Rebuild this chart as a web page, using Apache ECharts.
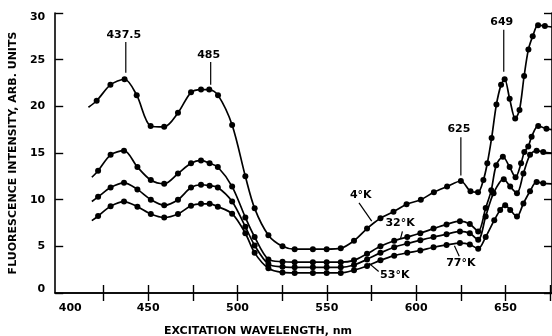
<!DOCTYPE html>
<html>
<head>
<meta charset="utf-8">
<script src="https://cdn.jsdelivr.net/npm/echarts@6/dist/echarts.min.js"></script>
<style>
html,body{margin:0;padding:0;background:#fff;}
#c{width:552px;height:336px;}
</style>
</head>
<body>
<div id="c"></div>
<script>
// ---- data ----
const xTickValues = [425, 450, 475, 500, 525, 550, 575, 600, 625, 650, 675];
const xLabelValues = [400, 450, 500, 550, 600, 650];

const wl4 = [416.6, 421.2, 428.9, 436.8, 443.6, 451.4, 459, 466.7, 474, 479.6, 484.2, 489.1, 497, 504.4, 509.6, 517.3, 525.2, 532, 542.2, 549.9, 557.8, 565.2, 572.5, 580, 587.3, 594.6, 602.6, 609.9, 617.3, 625, 630.4, 634.6, 637.6, 639.8, 642.2, 644.9, 647.5, 649.5, 652.3, 655.4, 657.8, 660.4, 662.8, 665.2, 668.2, 672, 676];
const v4  = [19.9, 20.6, 22.3, 22.9, 21.2, 17.9, 17.8, 19.3, 21.5, 21.8, 21.8, 21.2, 18.0, 12.5, 9.07, 6.2, 5.0, 4.7, 4.7, 4.7, 4.8, 5.6, 6.9, 8.0, 8.7, 9.5, 10.0, 10.8, 11.4, 12.0, 10.9, 10.8, 12.1, 13.9, 16.6, 20.2, 22.3, 22.9, 20.8, 18.7, 19.6, 23.25, 26.1, 27.5, 28.7, 28.6, 28.5];

const wl32 = [418.5, 422, 429, 436.5, 444, 451.5, 459, 466.7, 474, 479.6, 484.4, 489, 497, 504.4, 509.6, 517.3, 525.2, 532, 542.2, 549.9, 557.8, 565.2, 572.5, 580, 587.7, 595, 602.3, 609.7, 617, 624.5, 630, 634.7, 638.9, 642, 644.8, 648.5, 652.3, 655.6, 658.7, 660.5, 662.7, 664.6, 668.3, 672.9, 676];
const v32  = [12.4, 13.1, 14.8, 15.25, 13.5, 12.1, 11.7, 12.8, 13.9, 14.2, 13.9, 13.5, 11.4, 8.1, 6.0, 3.6, 3.35, 3.3, 3.3, 3.3, 3.3, 3.5, 4.2, 5.0, 5.6, 6.0, 6.4, 6.9, 7.35, 7.7, 7.4, 6.6, 9.1, 11.0, 13.7, 14.6, 13.5, 12.4, 13.9, 15.1, 15.7, 16.75, 17.9, 17.6, 17.5];

const wl53 = [418.5, 422, 429, 436.5, 444, 451.5, 459, 466.7, 474, 479.6, 484.4, 489, 497, 504.4, 509.6, 517.3, 525.2, 532, 542.2, 549.9, 557.8, 565.2, 572.5, 580, 587.7, 595, 602.3, 609.7, 617, 624.5, 630, 634.7, 638.9, 643.3, 649, 652.6, 656.4, 660, 663.7, 667.4, 671.1, 676];
const v53  = [9.8, 10.3, 11.3, 11.8, 11.1, 10.0, 9.4, 10.0, 11.3, 11.6, 11.5, 11.3, 9.8, 7.1, 5.1, 3.1, 2.8, 2.75, 2.75, 2.75, 2.75, 3.0, 3.6, 4.3, 4.9, 5.3, 5.65, 6.0, 6.3, 6.6, 6.4, 5.7, 8.2, 10.7, 12.2, 11.4, 10.7, 12.8, 14.8, 15.25, 15.1, 15.0];

const wl77 = [418.5, 422, 429, 436.5, 444, 451.5, 459, 466.7, 474, 479.6, 484.4, 489, 497, 504.4, 509.6, 517.3, 525.2, 532, 542.2, 549.9, 557.8, 565.2, 572.5, 580, 587.7, 595, 602.3, 609.7, 617, 624.5, 630, 634.7, 638.9, 643.7, 647, 649.8, 652.6, 656.4, 660, 663.7, 667.4, 671.1, 676];
const v77  = [7.75, 8.25, 9.3, 9.8, 9.25, 8.47, 8.1, 8.47, 9.35, 9.55, 9.55, 9.25, 8.5, 6.4, 4.3, 2.65, 2.2, 2.15, 2.15, 2.15, 2.15, 2.45, 2.9, 3.5, 4.0, 4.3, 4.55, 4.9, 5.15, 5.35, 5.2, 4.75, 6.0, 7.8, 8.9, 9.4, 8.9, 8.2, 9.6, 10.9, 11.9, 11.75, 11.7];

// peak annotations: wavelength, label, line from/to (intensity), label position
const peakNotes = [
  { wl: 437.5, text: '437.5', from: 23.6, to: 26.9, at: 27.6 },
  { wl: 485,   text: '485',   from: 22.3, to: 24.75, at: 25.5 },
  { wl: 625,   text: '625',   from: 12.6, to: 16.7, at: 17.6 },
  { wl: 649,   text: '649',   from: 23.7, to: 28.2, at: 29.0 }
];
// temperature labels: label point and leader line (data coords)
const tempNotes = [
  { text: '4°K',  at: [569, 10.5], from: [568, 9.65], to: [575.1, 7.7] },
  { text: '32°K', at: [591, 7.45], from: [592.3, 6.6], to: [591.2, 5.8] },
  { text: '53°K', at: [588, 1.95], from: [579, 2.3],  to: [573.5, 3.2] },
  { text: '77°K', at: [625, 3.2],  from: [624.1, 3.95], to: [621.4, 5.05] }
];

const FONT = '"DejaVu Sans", sans-serif';

function toData(wl, vals) {
  return wl.map((w, i) => {
    const item = { value: [w, vals[i]] };
    if (i === 0 || i === wl.length - 1) item.symbol = 'none';
    return item;
  });
}

function mkSeries(name, wl, vals) {
  return {
    name, type: 'line', xAxisIndex: 0, yAxisIndex: 0,
    data: toData(wl, vals),
    smooth: 0.3,
    symbol: 'circle', symbolSize: 6,
    lineStyle: { color: '#000', width: 1.7 },
    itemStyle: { color: '#000' },
    clip: true, animation: false
  };
}

const chart = echarts.init(document.getElementById('c'), null, { renderer: 'canvas' });

const axisCommon = {
  axisLine: { show: true, lineStyle: { color: '#000', width: 1.6 } },
  splitLine: { show: false }
};
const labelText = { color: '#000', fontFamily: FONT, fontWeight: 'bold', fontSize: 11 };

const option = {
  backgroundColor: '#fff',
  animation: false,
  grid: { left: 53, top: 13, width: 502, height: 280 },
  xAxis: [
    Object.assign({}, axisCommon, {
      type: 'value', position: 'bottom', min: 398, max: 676,
      axisTick: { show: true, inside: true, length: 8, lineStyle: { color: '#000', width: 1.4 }, customValues: xTickValues },
      axisLabel: Object.assign({ customValues: xLabelValues, margin: 10, alignMinLabel: 'left' }, labelText)
    }),
    Object.assign({}, axisCommon, {
      type: 'value', position: 'top', min: 398, max: 676,
      axisTick: { show: true, inside: true, length: 8, lineStyle: { color: '#000', width: 1.4 }, customValues: xTickValues },
      axisLabel: { show: false }
    })
  ],
  yAxis: [
    Object.assign({}, axisCommon, {
      type: 'value', position: 'left', min: 0, max: 30, interval: 5,
      axisTick: { show: true, inside: true, length: 8, lineStyle: { color: '#000', width: 1.4 } },
      axisLabel: Object.assign({
        margin: 10,
        formatter: (v) => v === 30 ? '{hi|' + v + '}' : (v === 0 ? '{lo|' + v + '}' : String(v)),
        rich: {
          hi: Object.assign({ padding: [8, 0, 0, 0] }, labelText),
          lo: Object.assign({ padding: [0, 0, 7, 0] }, labelText)
        }
      }, labelText),
      name: 'FLUORESCENCE INTENSITY, ARB. UNITS',
      nameLocation: 'middle', nameGap: 36, nameRotate: 90,
      nameTextStyle: labelText
    }),
    Object.assign({}, axisCommon, {
      type: 'value', position: 'right', min: 0, max: 30, interval: 5,
      axisTick: { show: true, inside: true, length: 8, lineStyle: { color: '#000', width: 1.4 } },
      axisLabel: { show: false }
    })
  ],
  series: [
    mkSeries('4°K', wl4, v4),
    mkSeries('32°K', wl32, v32),
    mkSeries('53°K', wl53, v53),
    mkSeries('77°K', wl77, v77)
  ]
};
chart.setOption(option);

const P = (p) => chart.convertToPixel({ seriesIndex: 0 }, p);
const textEl = (t, x, y) => ({
  type: 'text', x, y, z: 100,
  style: { text: t, font: 'bold 11px ' + FONT, fill: '#000', align: 'center', verticalAlign: 'middle' }
});
const lineEl = (a, b) => ({
  type: 'line', z: 100,
  shape: { x1: a[0], y1: a[1], x2: b[0], y2: b[1] },
  style: { stroke: '#000', lineWidth: 1.2 }
});

const g = [];
peakNotes.forEach(n => {
  const a = P([n.wl, n.from]), b = P([n.wl, n.to]), c = P([n.wl, n.at]);
  g.push(lineEl(a, b));
  g.push(textEl(n.text, c[0] - 2, c[1]));
});
tempNotes.forEach(n => {
  const c = P(n.at);
  g.push(lineEl(P(n.from), P(n.to)));
  g.push(textEl(n.text, c[0], c[1]));
});
g.push(textEl('EXCITATION WAVELENGTH, nm', 258, 331));
chart.setOption({ graphic: g });
</script>
</body>
</html>
